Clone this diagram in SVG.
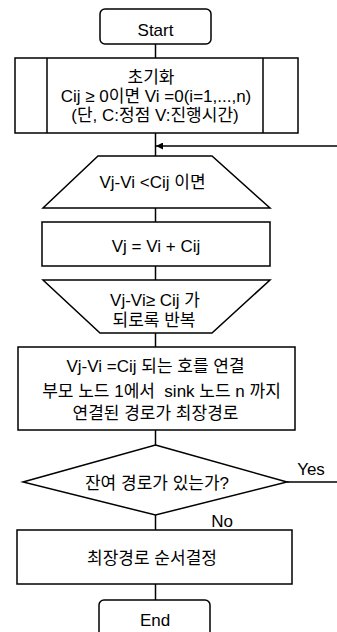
<svg xmlns="http://www.w3.org/2000/svg" width="337" height="632" viewBox="0 0 337 632">
<style>
.s{fill:#fff;stroke:#000;stroke-width:1.5}
.c{fill:none;stroke:#000;stroke-width:1.5}
text{font-family:"Liberation Sans","Noto Sans CJK KR",sans-serif;font-size:17px;fill:#000;text-anchor:middle}
</style>
<defs>
<marker id="ah" viewBox="0 0 10 10" refX="10" refY="5" markerWidth="8" markerHeight="7" markerUnits="userSpaceOnUse" orient="auto">
<path d="M0,0 L10,5 L0,10 z" fill="#000"/>
</marker>
</defs>
<g id="connectors">
<line class="c" x1="155.5" y1="44" x2="155.5" y2="58"/>
<line class="c" x1="155.5" y1="133" x2="155.5" y2="156"/>
<line class="c" x1="337" y1="146" x2="156" y2="146" marker-end="url(#ah)"/>
<line class="c" x1="155.5" y1="208" x2="155.5" y2="222"/>
<line class="c" x1="155.5" y1="266" x2="155.5" y2="280"/>
<line class="c" x1="155.5" y1="333" x2="155.5" y2="347"/>
<line class="c" x1="155.5" y1="430" x2="155.5" y2="445"/>
<line class="c" x1="155.5" y1="515" x2="155.5" y2="530"/>
<line class="c" x1="155.5" y1="584" x2="155.5" y2="600"/>
<line class="c" x1="287" y1="482" x2="337" y2="482"/>
<text x="311" y="475">Yes</text>
<text x="222" y="527">No</text>
</g>
<g id="start">
<rect class="s" x="100" y="9" width="111" height="35" rx="5"/>
<text x="155.5" y="36">Start</text>
</g>
<g id="init">
<rect class="s" x="15" y="58" width="283" height="75"/>
<line class="c" x1="47" y1="58" x2="47" y2="133"/>
<line class="c" x1="263" y1="58" x2="263" y2="133"/>
<text x="151" y="83">초기화</text>
<text x="156" y="102">Cij ≥ 0이면 Vi =0(i=1,...,n)</text>
<text x="155" y="121">(단, C:정점 V:진행시간)</text>
</g>
<g id="loop-start">
<polygon class="s" points="98,156 212,156 270,208 43,208"/>
<text x="152.5" y="188">Vj-Vi &lt;Cij 이면</text>
</g>
<g id="update">
<rect class="s" x="42" y="222" width="228" height="44"/>
<text x="156" y="252">Vj = Vi + Cij</text>
</g>
<g id="loop-end">
<polygon class="s" points="43,280 270,280 212,333 100,333"/>
<text x="155" y="306">Vj-Vi≥ Cij 가</text>
<text x="154" y="326">되로록 반복</text>
</g>
<g id="connect">
<rect class="s" x="18" y="347" width="277" height="83"/>
<text x="155.5" y="372">Vj-Vi =Cij 되는 호를 연결</text>
<text x="161.5" y="397" xml:space="preserve">부모 노드 1에서  sink 노드 n 까지</text>
<text x="155.5" y="419">연결된 경로가 최장경로</text>
</g>
<g id="decision">
<polygon class="s" points="155.5,445 287,482 155.5,515 23,482"/>
<text x="157" y="489">잔여 경로가 있는가?</text>
</g>
<g id="order">
<rect class="s" x="17" y="530" width="275" height="54"/>
<text x="152" y="564">최장경로 순서결정</text>
</g>
<g id="end">
<rect class="s" x="99" y="600" width="111" height="40" rx="5"/>
<text x="155" y="626">End</text>
</g>
</svg>
